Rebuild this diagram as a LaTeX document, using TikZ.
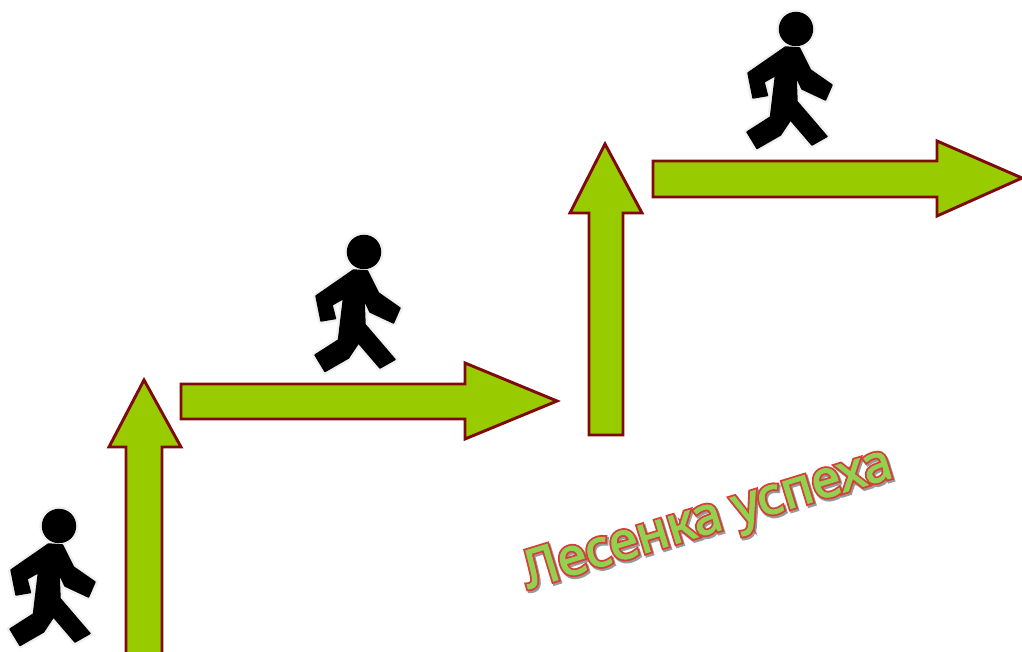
\documentclass[tikz,border=0pt]{standalone}
\usepackage{fontspec}
\setmainfont{DejaVu Sans}
\newfontfamily\ladderfont[FakeBold=2]{Noto Sans}
\newfontfamily\ladderhalo[FakeBold=9]{Noto Sans}
\definecolor{arrowgreen}{RGB}{153,204,0}
\definecolor{arrowred}{RGB}{128,10,10}
\definecolor{wordgreen}{RGB}{146,208,80}
\definecolor{wordred}{RGB}{214,62,58}
\tikzset{
  x=0.75pt,y=-0.75pt,
  stairarrow/.style={draw=arrowred,fill=arrowgreen,line width=2.2pt,line join=miter,miter limit=3},
  walkerhalo/.style={draw=black!6,fill=black!6,line width=4.6pt,line join=round},
  walkerbody/.style={fill=black,draw=black,line width=1.1pt,line join=round},
  ladderword/.style={rotate=17,inner sep=0pt,anchor=center,font=\fontsize{39}{39}\selectfont},
  walker/.pic={
    \foreach \sty in {walkerhalo,walkerbody}{
      \path[\sty] (0,0) circle (16.5);
      \path[\sty] (-10.5,18) -- (3.5,19) -- (14.5,41) -- (36,56) -- (29.5,71) -- (6,60)
        -- (0,47.5) -- (1,72.5) -- (31,107.5) -- (16,116) -- (-5.5,91) -- (-15.5,106)
        -- (-39,119.5) -- (-49,103) -- (-25.5,88) -- (-20.5,46.5) -- (-32,53) -- (-28.5,66.5)
        -- (-43,69) -- (-48,44) -- cycle;
    }
  }
}
\begin{document}
\begin{tikzpicture}
\useasboundingbox (0,0) rectangle (1022,652);
\clip (0,0) rectangle (1022,652);
\fill[white] (0,0) rectangle (1022,652);
% arrows
\path[stairarrow] (144,380) -- (181,447) -- (162,447) -- (162,660) -- (126,660) -- (126,447) -- (109,447) -- cycle;
\path[stairarrow] (181,384) -- (465,384) -- (465,363) -- (557,401) -- (465,439) -- (465,419) -- (181,419) -- cycle;
\path[stairarrow] (605,144) -- (642,213) -- (623,213) -- (623,435) -- (589,435) -- (589,213) -- (570,213) -- cycle;
\path[stairarrow] (653,161) -- (937,161) -- (937,141) -- (1022,178) -- (937,216) -- (937,197) -- (653,197) -- cycle;
% walkers
\pic at (59,526) {walker};
\pic at (364,252) {walker};
\pic at (796,29) {walker};
% label
\node[ladderword,text=black!40] (wordshadow) at (709.5,523) {\ladderhalo\bfseries Лесенка успеха};
\node[ladderword,text=wordred] (wordoutline) at (708,521) {\ladderhalo\bfseries Лесенка успеха};
\node[ladderword,text=wordgreen] (wordfill) at (708,521) {\ladderfont\bfseries Лесенка успеха};
\end{tikzpicture}
\end{document}
